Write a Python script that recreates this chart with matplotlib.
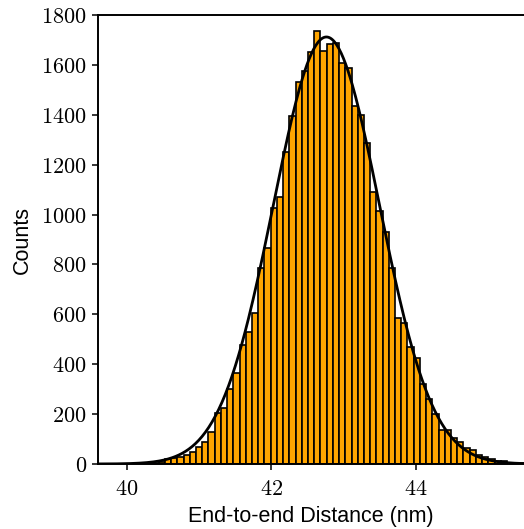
import numpy as np
import matplotlib
matplotlib.use('Agg')
import matplotlib.pyplot as plt
from matplotlib.ticker import FuncFormatter

plt.rcParams['mathtext.fontset'] = 'cm'
plt.rcParams['font.family'] = ['Liberation Sans', 'DejaVu Sans']

# histogram
bin_start = 40.185
bin_width = 0.0861
counts = [1, 2, 4, 9,
          19, 23, 27, 36, 49, 69, 89, 130, 203, 225,
          300, 364, 477, 530, 604, 785, 865, 1025, 1072, 1250,
          1395, 1532, 1576, 1653, 1737, 1656, 1683, 1687, 1607, 1589,
          1435, 1399, 1288, 1092, 1016, 931, 785, 587, 567, 468,
          424, 321, 261, 200, 136, 136, 105, 90, 63, 56,
          36, 29, 20, 13, 10, 5, 4, 3]

# gaussian fit
fit_mu = 42.765
fit_sigma = 0.735
fit_amp = 1712

x_ticks = [40, 42, 44]
y_ticks = [0, 200, 400, 600, 800, 1000, 1200, 1400, 1600, 1800]

edges = bin_start + bin_width * np.arange(len(counts) + 1)

fig = plt.figure(figsize=(5.24, 5.29), dpi=100)
ax = fig.add_axes([0.187, 0.1229, 0.813, 0.8487])

ax.bar(edges[:-1], counts, width=bin_width, align='edge',
       color='#FFA500', edgecolor='black', linewidth=1.2)

xs = np.linspace(39.5, 45.6, 400)
ax.plot(xs, fit_amp * np.exp(-0.5 * ((xs - fit_mu) / fit_sigma) ** 2),
        color='black', lw=2)

ax.set_xlim(39.603, 45.5)
ax.set_ylim(0, 1800)
ax.set_xticks(x_ticks)
ax.set_yticks(y_ticks)
fmt = FuncFormatter(lambda v, p: r'$%d$' % v)
ax.xaxis.set_major_formatter(fmt)
ax.yaxis.set_major_formatter(fmt)
ax.tick_params(labelsize=16, length=4.5, width=1.1)
ax.tick_params(axis='x', pad=6)

ax.spines['right'].set_visible(False)
for s in ['left', 'top', 'bottom']:
    ax.spines[s].set_linewidth(1.4)

ax.set_xlabel('End-to-end Distance (nm)', fontsize=15.5, labelpad=4.5)
ax.set_ylabel('Counts', fontsize=15.5, labelpad=6)

plt.savefig('out.png', dpi=100)
